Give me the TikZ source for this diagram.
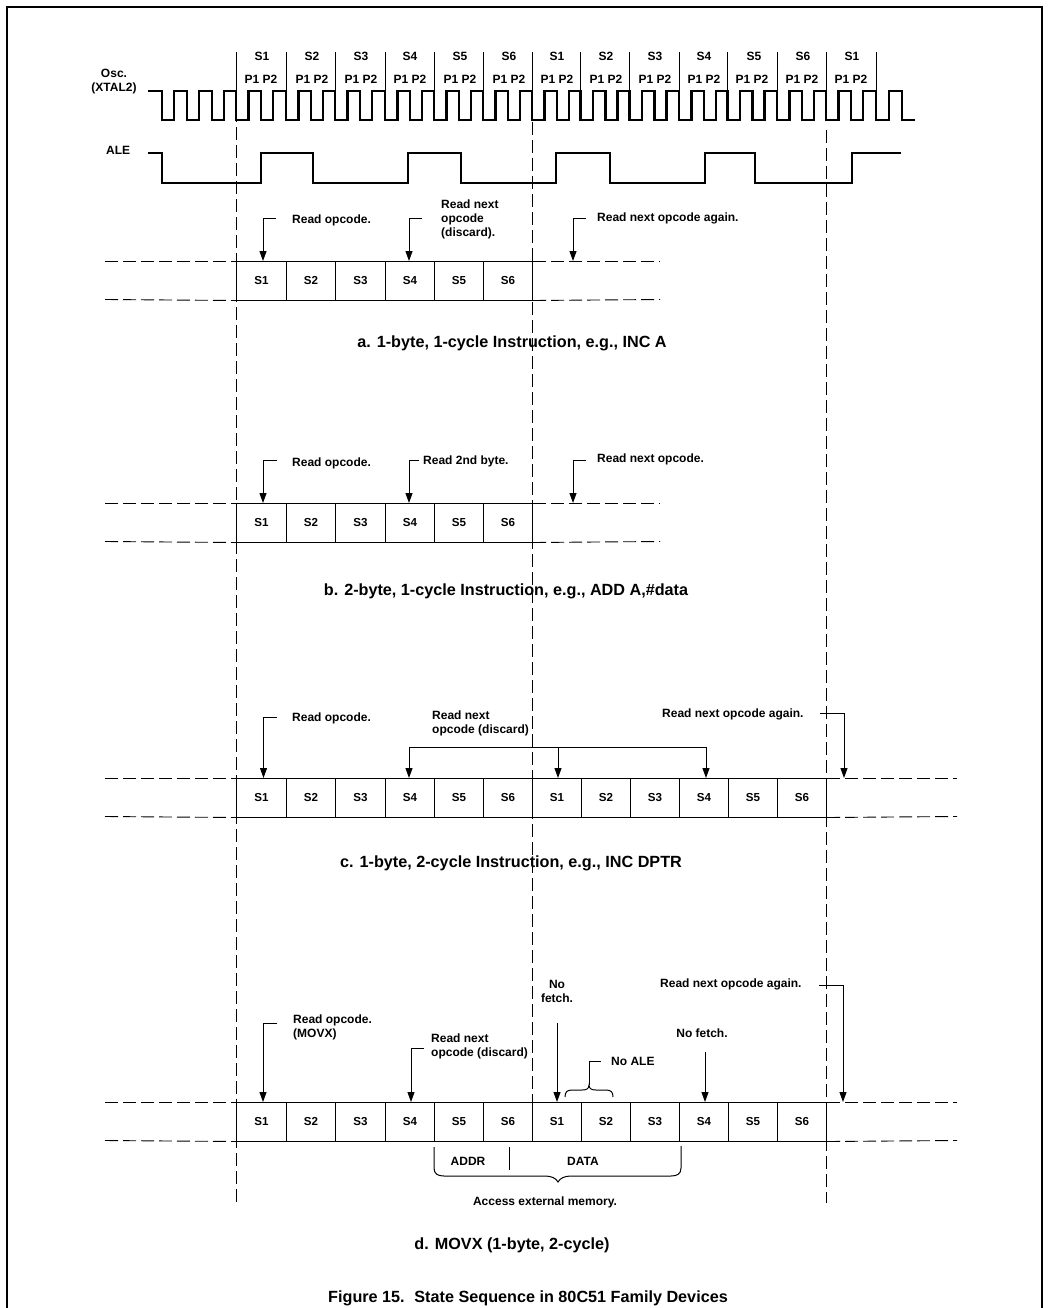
\documentclass[tikz,border=0pt]{standalone}
\usepackage{fontspec}
\setmainfont{Liberation Sans}[BoldFont={Liberation Sans Bold}]
\usetikzlibrary{arrows.meta}
\tikzset{
  frameline/.style={line width=2pt},
  wave/.style={line width=2.3pt,line join=miter},
  tickline/.style={line width=1pt},
  guide/.style={line width=0.8pt,dash pattern=on 13pt off 5pt},
  rowdash/.style={line width=0.9pt,dash pattern=on 13pt off 5pt},
  cellbox/.style={draw,line width=1pt,anchor=north west,minimum height=38.5pt,inner sep=0pt,font=\fontsize{11.6}{12}\selectfont\bfseries},
  ptr/.style={line width=1pt,-{Triangle[length=10pt,width=7pt]}},
  leadline/.style={line width=1pt},
  lbl/.style={anchor=west,inner sep=0pt,align=left,yshift=-1pt,font=\fontsize{12}{14}\selectfont\bfseries},
  clbl/.style={inner sep=0pt,align=center,yshift=-1pt,font=\fontsize{12}{14}\selectfont\bfseries},
  captxt/.style={inner sep=0pt,yshift=-2pt,font=\fontsize{16.2}{18}\selectfont\bfseries},
}
\newcommand{\cellrow}[3]{%
  \foreach \nn/\xa/\cw/\lb in {1/236/50/S1,2/286/49/S2,3/335/50/S3,4/385/49/S4,5/434/49/S5,6/483/49/S6,7/532/49/S1,8/581/49/S2,9/630/49/S3,10/679/49/S4,11/728/49/S5,12/777/49/S6}{%
    \ifnum\nn>#3\relax\else
      \node[cellbox,minimum width=\cw pt] (#1\nn) at (\xa,#2) {\lb};
    \fi}}
\begin{document}
\begin{tikzpicture}[x=1pt,y=-1pt]
\useasboundingbox (0,0) rectangle (1048,1308);
% frame
\coordinate (fa) at (7,1308); \coordinate (fb) at (7,7); \coordinate (fc) at (1042,7); \coordinate (fd) at (1042,1308);
\draw[frameline] (fa) -- (fb) -- (fc) -- (fd);
% top ticks and state labels
\foreach \bx in {236,286,335,385,434,483,532,580.5,629.5,679,727.5,777,826,876}{\draw[tickline] (\bx,52) -- (\bx,91);}
\foreach \nn/\cx/\lb in {a/262/S1,b/312/S2,c/361/S3,d/410/S4,e/460/S5,f/509/S6,g/557/S1,h/606/S2,i/655/S3,j/704/S4,k/754/S5,l/803/S6,m/852/S1}{
  \node[clbl] (st\nn) at (\cx,55) {\lb};
}
\foreach \nn/\cx in {a/261,b/312,c/361,d/410,e/460,f/509,g/557,h/606,i/655,j/704,k/752,l/802,m/851}{
  \node[clbl] (ph\nn) at (\cx,78) {P1 P2};
}
\node[clbl] (osc) at (114,81) {Osc.\\(XTAL2)};
\node[lbl] (ale) at (106,149) {ALE};
% oscillator
\draw[wave] (148,91) foreach \bx in {162} {-- (\bx,91) -- (\bx,120) -- ({\bx+12},120) -- ({\bx+12},91) -- ({\bx+25},91) -- ({\bx+25},120) -- ({\bx+37},120) -- ({\bx+37},91)}
  -- (212,91) -- (212,120) -- (224,120) -- (224,91)
  foreach \bx in {236,286,335,385,434,483,532,580.5,629.5,679,727.5,777,826} {-- (\bx,91) -- (\bx,120) -- ({\bx+12.4},120) -- ({\bx+12.4},91) -- ({\bx+25},91) -- ({\bx+25},120) -- ({\bx+37},120) -- ({\bx+37},91)}
  -- (876,91) -- (876,120) -- (889,120) -- (889,91) -- (902,91) -- (902,120) -- (915,120);
% ALE
\draw[wave] (148,153) -- (162,153) -- (162,183) -- (261,183) -- (261,153) -- (313,153) -- (313,183) -- (408,183) -- (408,153) -- (461,153) -- (461,183) -- (556,183) -- (556,153) -- (610,153) -- (610,183) -- (705,183) -- (705,153) -- (755,153) -- (755,183) -- (852,183) -- (852,153) -- (901,153);
% guides
\draw[guide] (236,91) -- (236,1203);
\draw[guide] (532,122) -- (532,1140);
\draw[guide] (826,130) -- (826,1203);
% row a
\cellrow{a}{261}{6}
\draw[rowdash] (105,261) -- (a1.north west);
\draw[rowdash] (105,299.5) -- (a1.south west);
\draw[rowdash] (a6.north east) -- (660,261);
\draw[rowdash] (a6.south east) -- (660,299.5);
\coordinate (ah1) at (276,218); \coordinate (at1) at (263,261);
\coordinate (ah2) at (422,218); \coordinate (at2) at (409,261);
\coordinate (ah3) at (586,218); \coordinate (at3) at (573,261);
\draw[ptr] (ah1) -| (at1);
\draw[ptr] (ah2) -| (at2);
\draw[ptr] (ah3) -| (at3);
\node[lbl] (al1) at (292,219) {Read opcode.};
\node[lbl] (al2) at (441,218) {Read next\\opcode\\(discard).};
\node[lbl] (al3) at (597,217) {Read next opcode again.};
\node[captxt] (capa) at (512,341) {a. 1-byte, 1-cycle Instruction, e.g., INC A};
% row b
\cellrow{b}{503}{6}
\draw[rowdash] (105,503) -- (b1.north west);
\draw[rowdash] (105,541.5) -- (b1.south west);
\draw[rowdash] (b6.north east) -- (660,503);
\draw[rowdash] (b6.south east) -- (660,541.5);
\coordinate (bh1) at (277,460); \coordinate (bt1) at (263,503);
\coordinate (bh2) at (419,460); \coordinate (bt2) at (409,503);
\coordinate (bh3) at (586,460); \coordinate (bt3) at (573,503);
\draw[ptr] (bh1) -| (bt1);
\draw[ptr] (bh2) -| (bt2);
\draw[ptr] (bh3) -| (bt3);
\node[lbl] (bl1) at (292,462) {Read opcode.};
\node[lbl] (bl2) at (423,460) {Read 2nd byte.};
\node[lbl] (bl3) at (597,458) {Read next opcode.};
\node[captxt] (capb) at (506,589) {b. 2-byte, 1-cycle Instruction, e.g., ADD A,\#data};
% row c
\cellrow{c}{778}{12}
\draw[rowdash] (105,778) -- (c1.north west);
\draw[rowdash] (105,816.5) -- (c1.south west);
\draw[rowdash] (c12.north east) -- (957,778);
\draw[rowdash] (c12.south east) -- (957,816.5);
\coordinate (ch1) at (277,717); \coordinate (ct1) at (263.5,778);
\draw[ptr] (ch1) -| (ct1);
\coordinate (cbl) at (409,747); \coordinate (cbm) at (558,747); \coordinate (cbr) at (706,747);
\coordinate (ct2) at (409,778); \coordinate (ct3) at (558,778); \coordinate (ct4) at (706,778);
\draw[leadline] (cbl) -- (cbr);
\draw[ptr] (cbl) -- (ct2);
\draw[ptr] (cbm) -- (ct3);
\draw[ptr] (cbr) -- (ct4);
\coordinate (ch5) at (820,713); \coordinate (ct5) at (844,778);
\draw[ptr] (ch5) -| (ct5);
\node[lbl] (cl1) at (292,717) {Read opcode.};
\node[lbl] (cl2) at (432,722) {Read next\\opcode (discard)};
\node[lbl] (cl3) at (662,713) {Read next opcode again.};
\node[captxt] (capc) at (511,861) {c. 1-byte, 2-cycle Instruction, e.g., INC DPTR};
% row d
\cellrow{d}{1102}{12}
\draw[rowdash] (105,1102) -- (d1.north west);
\draw[rowdash] (105,1140.5) -- (d1.south west);
\draw[rowdash] (d12.north east) -- (957,1102);
\draw[rowdash] (d12.south east) -- (957,1140.5);
\coordinate (dh1) at (277,1023); \coordinate (dt1) at (263,1102);
\coordinate (dh2) at (424,1048); \coordinate (dt2) at (411,1102);
\coordinate (dh3) at (557,1023); \coordinate (dt3) at (557,1102);
\coordinate (dh4) at (705,1052); \coordinate (dt4) at (705,1102);
\coordinate (dh5) at (819,985); \coordinate (dt5) at (843,1102);
\draw[ptr] (dh1) -| (dt1);
\draw[ptr] (dh2) -| (dt2);
\draw[ptr] (dh3) -- (dt3);
\draw[ptr] (dh4) -- (dt4);
\draw[ptr] (dh5) -| (dt5);
\node[lbl] (dl1) at (293,1026) {Read opcode.\\(MOVX)};
\node[lbl] (dl2) at (431,1045) {Read next\\opcode (discard)};
\node[clbl] (dl3) at (557,990) {No\\fetch.};
\node[clbl] (dl4) at (702,1032) {No fetch.};
\node[lbl] (dl5) at (660,983) {Read next opcode again.};
\node[lbl] (dl6) at (611,1060) {No ALE};
% small brace and its leader
\coordinate (sbt) at (589,1085); \coordinate (sbs) at (589,1061); \coordinate (sbh) at (601,1061);
\draw[leadline] (565,1097) .. controls (565,1092) and (567,1090) .. (572,1090) -- (582,1090) .. controls (586,1090) and (589,1089) .. (sbt) .. controls (589,1089) and (592,1090) .. (596,1090) -- (606,1090) .. controls (611,1090) and (613,1092) .. (613,1097);
\draw[leadline] (sbt) -- (sbs) -- (sbh);
% big brace
\coordinate (bbt) at (558,1182); \coordinate (bba) at (434,1147); \coordinate (bbb) at (681,1146);
\draw[leadline] (bba) -- (434,1168) .. controls (434,1174) and (438,1176) .. (444,1176) -- (545,1176) .. controls (551,1176) and (556,1178) .. (bbt) .. controls (560,1178) and (565,1176) .. (571,1176) -- (671,1176) .. controls (677,1176) and (681,1174) .. (681,1168) -- (bbb);
\coordinate (sepa) at (509,1147); \coordinate (sepb) at (509,1170);
\draw[leadline] (sepa) -- (sepb);
\node[clbl] (addr) at (468,1160) {ADDR};
\node[clbl] (data) at (583,1160) {DATA};
\node[clbl] (acc) at (545,1201) {Access external memory.};
\node[captxt] (capd) at (512,1243) {d. MOVX (1-byte, 2-cycle)};
\node[captxt] (fig) at (528,1296) {Figure 15.\hspace{0.6em}State Sequence in 80C51 Family Devices};
\end{tikzpicture}
\end{document}
